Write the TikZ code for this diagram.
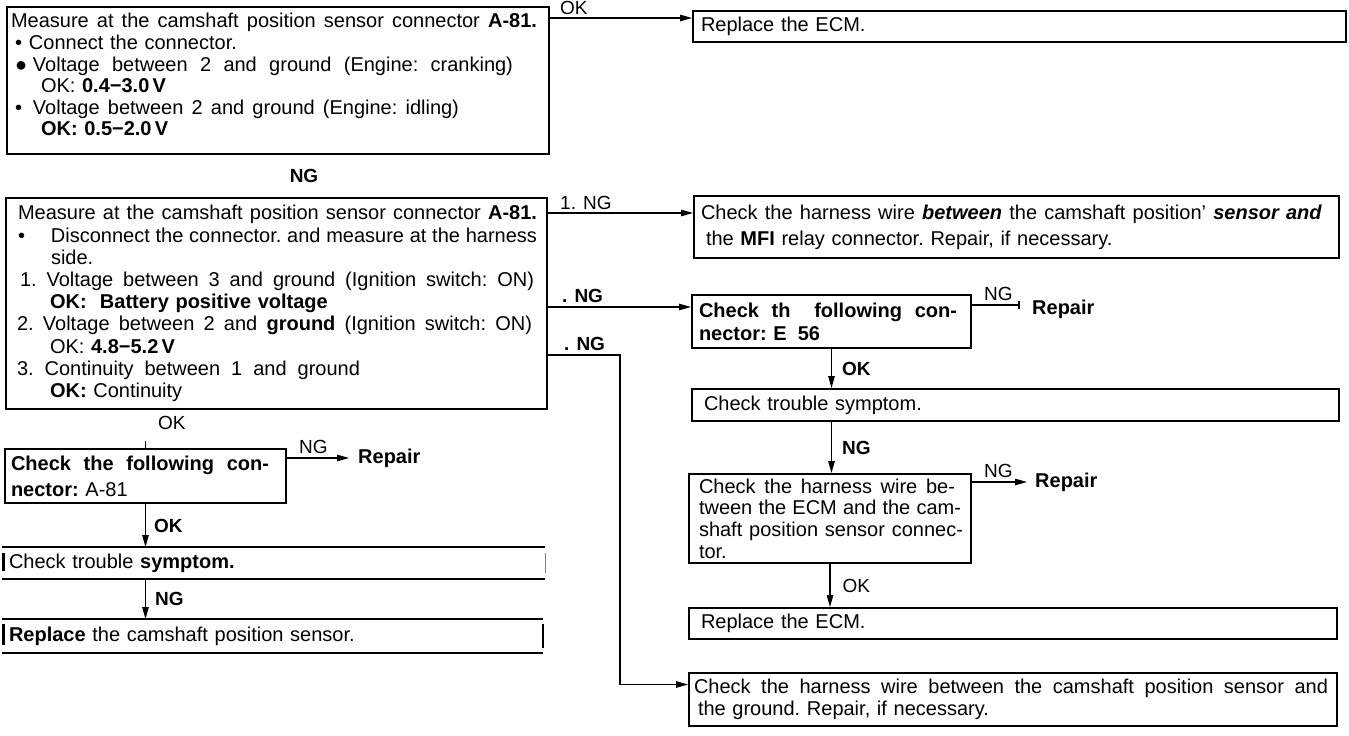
\documentclass[tikz,border=0pt]{standalone}
\usepackage{fontspec}
\setmainfont{Liberation Sans}
\usetikzlibrary{arrows.meta}

% one line spread out to a given width
\newcommand{\jl}[2]{\makebox[#1][s]{\spaceskip=0pt\xspaceskip=0pt #2}}

\tikzset{
  lsp/.style={font=\fontsize{20}{#1}\selectfont\frenchspacing},
  box/.style={lsp=22, draw, line width=2pt, anchor=north west, align=left, inner xsep=4pt, inner ysep=0pt},
  bare/.style={box, draw=none},
  lbl/.style={font=\fontsize{19}{20}\selectfont, inner sep=0pt},
  blbl/.style={font=\fontsize{19}{20}\selectfont\bfseries, inner sep=0pt},
  rep/.style={font=\fontsize{20}{22}\selectfont\bfseries, inner sep=0pt, anchor=west},
  arr/.style={line width=1.2pt, -{Triangle[length=12pt,width=6.5pt]}},
  bord/.style={line width=2pt},
}

\begin{document}
\begin{tikzpicture}[x=1pt, y=-1pt]
\useasboundingbox (0,0) rectangle (1349,736);

% Left column
\node[box, lsp=21.6, text width=534pt, minimum height=147pt] (chkA) at (6,6) {%
  \jl{526pt}{Measure at the camshaft position sensor connector \textbf{A-81.}}\\
  \hspace*{4pt}\makebox[14pt][l]{•}Connect the connector.\\
  \hspace*{4pt}\makebox[18pt][l]{●}\jl{480pt}{Voltage between 2 and ground (Engine: cranking)}\\
  \hspace*{30pt}OK: \textbf{0.4−3.0\,V}\\
  \hspace*{4pt}\makebox[18pt][l]{•}\jl{426pt}{Voltage between 2 and ground (Engine: idling)}\\
  \hspace*{30pt}\textbf{OK: 0.5−2.0\,V}\\[-10pt]\mbox{}};

\node[blbl] (ngM) at (304,176) {NG};

\node[box, lsp=22.2, text width=533pt, minimum height=211pt] (chkB) at (5,197) {%
  \hspace*{8pt}\jl{519pt}{Measure at the camshaft position sensor connector \textbf{A-81.}}\\
  \hspace*{8pt}\makebox[33pt][l]{•}\jl{486pt}{Disconnect the connector. and measure at the harness}\\
  \hspace*{41pt}side.\\
  \hspace*{10pt}\jl{514pt}{1. Voltage between 3 and ground (Ignition switch: ON)}\\
  \hspace*{40pt}\textbf{OK:\ \ Battery positive voltage}\\
  \hspace*{7pt}\jl{515pt}{2. Voltage between 2 and \textbf{ground} (Ignition switch: ON)}\\
  \hspace*{40pt}OK: \textbf{4.8−5.2\,V}\\
  \hspace*{7pt}\jl{343pt}{3. Continuity between 1 and ground}\\
  \hspace*{40pt}\textbf{OK:} Continuity};

\node[lbl, anchor=west] (okB) at (158,423) {OK};

\node[box, lsp=26, text width=273pt, minimum height=54pt] (conA) at (4,448) {%
  \hspace*{2pt}\textbf{\jl{258pt}{Check the following con-}}\\
  \hspace*{2pt}\textbf{nector:} A-81};
\node[rep] (rpA) at (358,458) {Repair};

\node[bare, text width=533pt, minimum height=30pt] (symA) at (2,547) {%
  \hspace*{2pt}Check trouble \textbf{symptom.}};
\node[bare, text width=531pt, minimum height=32pt] (camA) at (2,619) {%
  \hspace*{2pt}\textbf{Replace} the camshaft position sensor.};

% Right column
\node[box, text width=645pt, minimum height=31pt] (ecmA) at (692,10) {%
  \hspace*{4pt}Replace the ECM.};
\node[box, lsp=26, text width=637pt, minimum height=62pt] (harnA) at (693,195) {%
  \hspace*{3pt}\jl{621pt}{Check the harness wire \textbf{\textit{between}} the camshaft position’ \textbf{\textit{sensor and}}}\\
  \hspace*{8pt}the \textbf{MFI} relay connector. Repair, if necessary.};
\node[box, lsp=23, text width=271pt, minimum height=53pt] (conB) at (691,294) {%
  \hspace*{3pt}\textbf{\jl{258pt}{Check th\hspace{11pt} following con-}}\\
  \hspace*{3pt}\textbf{nector: E\hspace{11pt}56}};
\node[rep] (rpB) at (1032,309) {Repair};
\node[box, text width=639pt, minimum height=32pt] (symB) at (691,388) {%
  \hspace*{8pt}Check trouble symptom.};
\node[box, lsp=21.7, text width=274pt, minimum height=89pt] (harnB) at (688,473) {%
  \hspace*{6pt}\jl{256pt}{Check the harness wire be-}\\
  \hspace*{6pt}\jl{262pt}{tween the ECM and the cam-}\\
  \hspace*{6pt}\jl{264pt}{shaft position sensor connec-}\\
  \hspace*{6pt}tor.};
\node[rep] (rpC) at (1035,482) {Repair};
\node[box, text width=640pt, minimum height=31pt] (ecmB) at (688,607) {%
  \hspace*{8pt}Replace the ECM.};
\node[box, text width=640pt, minimum height=53pt] (harnC) at (688,672) {%
  \hspace*{1pt}\jl{634pt}{Check the harness wire between the camshaft position sensor and}\\
  \hspace*{5pt}the ground. Repair, if necessary.};

% Open boxes
\draw[bord] (symA.north west) -- (symA.north east) (symA.south west) -- (symA.south east);
\draw[line width=3pt] ([xshift=1.5pt, yshift=-6pt]symA.north west) -- ([xshift=1.5pt, yshift=8pt]symA.south west);
\draw[gray, line width=1pt] ([yshift=-6pt]symA.north east) -- ([yshift=6pt]symA.south east);
\draw[bord] (camA.north west) -- (camA.north east) (camA.south west) -- (camA.south east);
\draw[line width=3pt] ([xshift=1.5pt, yshift=-5pt]camA.north west) -- ([xshift=1.5pt, yshift=8pt]camA.south west);
\draw[line width=1.2pt] ([yshift=-5pt]camA.north east) -- ([yshift=5pt]camA.south east);

% Connectors
\coordinate (okA) at ([yshift=-12pt]chkA.north east);
\draw[arr] (okA) -- (okA -| ecmA.west);
\node[lbl, anchor=south west] (okAl) at ([xshift=10pt, yshift=3pt]okA) {OK};

\coordinate (ngA) at ([yshift=-16pt]chkB.north east);
\draw[arr] (ngA) -- (ngA -| harnA.west);
\node[lbl, anchor=south west] (ngAl) at ([xshift=12pt, yshift=3pt]ngA) {1. NG};

\coordinate (ngB) at ([yshift=-110pt]chkB.north east);
\draw[arr] (ngB) -- (ngB -| conB.west);
\node[blbl, anchor=south west] (ngBl) at ([xshift=14pt, yshift=4pt]ngB) {. NG};

\coordinate (ngC) at ([yshift=-158pt]chkB.north east);
\coordinate (ngCe) at ([yshift=15pt]harnC.west);
\draw[arr] (ngC) -- ++(72,0) |- (ngCe);
\node[blbl, anchor=south west] (ngCl) at ([xshift=16pt, yshift=4pt]ngC) {. NG};

\draw[line width=1pt] (conA.north) -- ++(0,-7);

\coordinate (ngD) at (rpA.west -| conA.east);
\draw[arr, shorten >=9pt] (ngD) -- (rpA.west);
\node[lbl, anchor=south west] (ngDl) at ([xshift=12pt, yshift=4pt]ngD) {NG};

\draw[arr] (conA.south) -- (conA.south |- symA.north)
  node[blbl, midway, right=8pt] (okC) {OK};
\draw[arr] (conA.south |- symA.south) -- (conA.south |- camA.north)
  node[blbl, midway, right=9pt] (ngF) {NG};

\coordinate (ngG) at ([yshift=4pt]rpB.west -| conB.east);
\draw[line width=1.2pt, -{Bar[width=8pt, line width=2pt]}] (ngG) -- ([xshift=-12pt, yshift=4pt]rpB.west);
\node[lbl, anchor=south west] (ngGl) at ([xshift=12pt, yshift=4pt]ngG) {NG};

\draw[arr] (conB.south) -- (conB.south |- symB.north)
  node[blbl, midway, right=10pt] (okD) {OK};
\draw[arr] (conB.south |- symB.south) -- (conB.south |- harnB.north)
  node[blbl, midway, right=10pt] (ngE) {NG};

\coordinate (ngH) at (rpC.west -| harnB.east);
\draw[arr, shorten >=8pt] (ngH) -- (rpC.west);
\node[lbl, anchor=south west] (ngHl) at ([xshift=12pt, yshift=4pt]ngH) {NG};

\draw[arr] (harnB.south) -- (harnB.south |- ecmB.north)
  node[lbl, midway, right=12pt] (okE) {OK};

\end{tikzpicture}
\end{document}
